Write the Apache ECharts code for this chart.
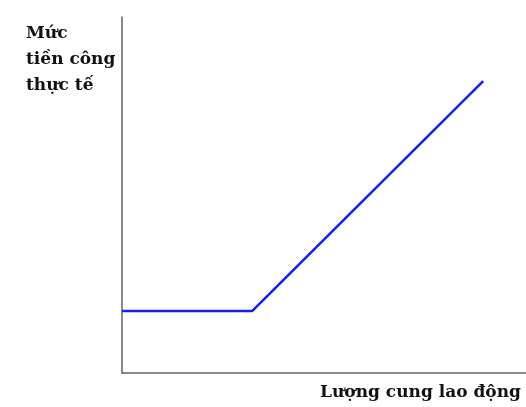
<!DOCTYPE html>
<html>
<head>
<meta charset="utf-8">
<script src="https://cdn.jsdelivr.net/npm/echarts@6/dist/echarts.min.js"></script>
<style>
  html, body { margin: 0; padding: 0; background: #fff; }
  #chart { width: 526px; height: 407px; }
</style>
</head>
<body>
<div id="chart"></div>
<script>
var yTitle = ["Mức", "tiền công", "thực tế"];
var xTitle = "Lượng cung lao động";

// supply curve: flat then rising
var supplyX = [0, 32.2, 89.4];
var supplyY = [17.4, 17.4, 82];

var chart = echarts.init(document.getElementById("chart"));

var axisLine = { show: true, lineStyle: { color: "#666", width: 1.5 } };

chart.setOption({
    animation: false,
    backgroundColor: "#fff",
    grid: { left: 122, right: 0, top: 17, bottom: 34 },
    xAxis: {
        type: "value", min: 0, max: 100,
        axisLine: axisLine, axisTick: { show: false },
        axisLabel: { show: false }, splitLine: { show: false }
    },
    yAxis: {
        type: "value", min: 0, max: 100,
        axisLine: axisLine, axisTick: { show: false },
        axisLabel: { show: false }, splitLine: { show: false }
    },
    graphic: [
        {
            type: "text", left: 26, top: 21,
            style: {
                text: yTitle.join("\n"),
                font: "bold 17px 'DejaVu Serif'",
                lineHeight: 26, fill: "#111"
            }
        },
        {
            type: "text", left: 320, top: 384,
            style: {
                text: xTitle,
                font: "bold 17px 'DejaVu Serif'",
                fill: "#111"
            }
        }
    ],
    series: [{
        type: "line",
        data: supplyX.map(function (x, i) { return [x, supplyY[i]]; }),
        symbol: "none",
        lineStyle: { color: "#1a1aff", width: 2.5 }
    }]
});
</script>
</body>
</html>
